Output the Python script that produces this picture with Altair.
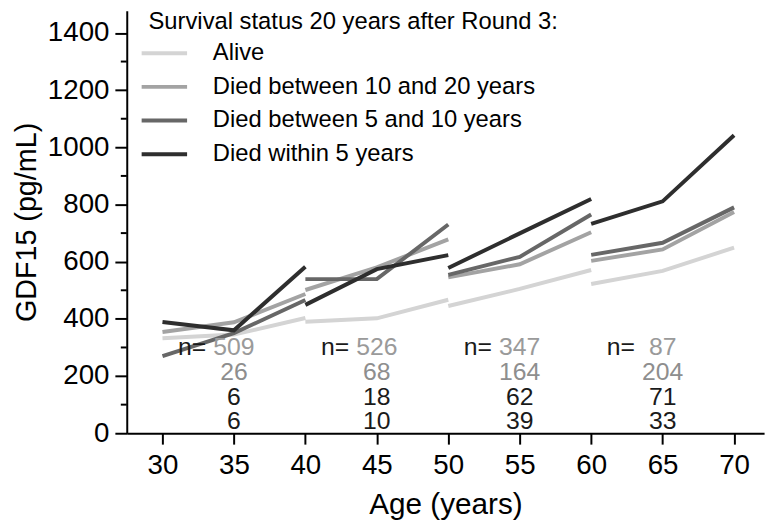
import altair as alt
import pandas as pd

FONT = "Liberation Sans, Arial, sans-serif"
NFONT = "Liberation Sans, Arial, sans-serif"

statuses = ["Alive", "Died between 10 and 20 years",
            "Died between 5 and 10 years", "Died within 5 years"]
colors = ["#d4d4d4", "#a3a3a3", "#676767", "#2e2e2e"]

age_groups = [[30, 35, 40], [40, 45, 50], [50, 55, 60], [60, 65, 70]]
alive = [332, 345, 403, 390, 402, 467, 445, 505, 571, 522, 568, 649]
died_10_20 = [354, 388, 487, 501, 580, 678, 545, 591, 703, 603, 643, 774]
died_5_10 = [270, 350, 466, 539, 539, 730, 554, 617, 765, 624, 666, 790]
died_5 = [389, 360, 582, 449, 574, 623, 578, 699, 819, 732, 811, 1042]

n_ages = [35, 45, 55, 65]
n_alive = [509, 526, 347, 87]
n_10_20 = [26, 68, 164, 204]
n_5_10 = [6, 18, 62, 71]
n_5 = [6, 10, 39, 33]

x_ticks = [30, 35, 40, 45, 50, 55, 60, 65, 70]
y_major = [0, 200, 400, 600, 800, 1000, 1200, 1400]
y_minor = [100, 300, 500, 700, 900, 1100, 1300]

rows = []
for status, vals in zip(statuses, [alive, died_10_20, died_5_10, died_5]):
    for gi, ages in enumerate(age_groups):
        for j, a in enumerate(ages):
            rows.append({"status": status, "group": gi, "age": a,
                         "gdf": vals[gi * 3 + j]})
df = pd.DataFrame(rows)

x_enc = alt.X("age:Q",
              scale=alt.Scale(domain=[27.5, 72.1], nice=False, zero=False),
              axis=alt.Axis(values=x_ticks, title="Age (years)", grid=False,
                            format="d",
                            domainColor="black", domainWidth=2,
                            tickColor="black", tickWidth=2, tickSize=11,
                            labelFont=FONT, labelFontSize=28, labelColor="black",
                            labelPadding=8, labelFlush=False,
                            titleFont=FONT, titleFontSize=30,
                            titleFontWeight="normal", titleColor="black",
                            titleY=72, titleBaseline="middle"))
y_enc = alt.Y("gdf:Q",
              scale=alt.Scale(domain=[0, 1478], nice=False),
              axis=alt.Axis(values=y_major, title="GDF15 (pg/mL)", grid=False,
                            format="d",
                            domainColor="black", domainWidth=2,
                            tickColor="black", tickWidth=2, tickSize=12,
                            labelFont=FONT, labelFontSize=28, labelColor="black",
                            labelPadding=6, labelFlush=False,
                            titleFont=FONT, titleFontSize=29,
                            titleFontWeight="normal", titleColor="black",
                            titleX=-101, titleBaseline="middle",
                            titleAngle=-90))

lines = alt.Chart(df).mark_line(strokeWidth=4, strokeCap="butt").encode(
    x=x_enc,
    y=y_enc,
    color=alt.Color("status:N",
                    scale=alt.Scale(domain=statuses, range=colors),
                    legend=alt.Legend(
                        title="Survival status 20 years after Round 3:",
                        orient="none", legendX=22, legendY=0,
                        direction="vertical",
                        titleFont=FONT, titleFontSize=24,
                        titleFontWeight="normal", titleColor="black",
                        titleLimit=0, titlePadding=3,
                        labelFont=FONT, labelFontSize=24, labelColor="black",
                        labelLimit=0, labelOffset=33,
                        symbolType="M-1.64,0H1.64", symbolSize=784,
                        symbolStrokeWidth=4, rowPadding=6)),
    detail="group:N",
)

minor = alt.Chart(pd.DataFrame({"gdf": y_minor})).mark_rule(
    color="black", strokeWidth=2).encode(
    y=y_enc, x=alt.value(-6), x2=alt.value(0))

n_rows = [n_alive, n_10_20, n_5_10, n_5]
row_colors = ["#9a9a9a", "#8e8e8e", "#1a1a1a", "#1a1a1a"]
row_y = [348, 373, 398, 423]

layers = [lines, minor]
for vals, c, ry in zip(n_rows, row_colors, row_y):
    layers.append(
        alt.Chart(pd.DataFrame({"age": n_ages, "n": vals})).mark_text(
            font=NFONT, fontSize=25, align="center", baseline="alphabetic",
            color=c).encode(x=x_enc, y=alt.value(ry), text="n:N"))

layers.append(
    alt.Chart(pd.DataFrame({"age": n_ages})).mark_text(
        font=NFONT, fontSize=25, align="right", baseline="alphabetic",
        color="#1a1a1a", dx=-28, text="n=").encode(x=x_enc, y=alt.value(row_y[0])))

chart = alt.layer(*layers).properties(
    width=644, height=427,
    autosize=alt.AutoSizeParams(type="none"),
    padding={"left": 120, "top": 0, "right": 8, "bottom": 87},
    background="white",
).configure_view(stroke=None)

chart.save("out.html", embed_options={"renderer": "svg", "actions": False})
